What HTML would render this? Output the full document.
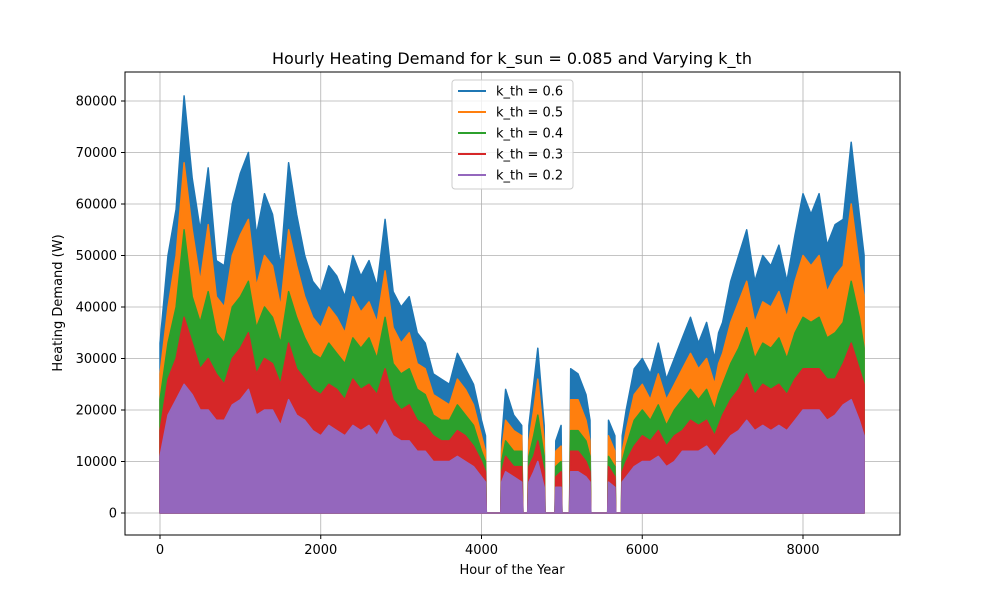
<!DOCTYPE html>
<html><head><meta charset="utf-8"><style>
body{margin:0;background:#fff;}
svg text{font-family:"DejaVu Sans","Liberation Sans",sans-serif;}
</style></head><body>
<svg id="chart" width="1000" height="600" xmlns="http://www.w3.org/2000/svg">
<rect x="0" y="0" width="1000" height="600" fill="#fff"/>
<text x="512" y="64" text-anchor="middle" font-size="16">Hourly Heating Demand for k_sun = 0.085 and Varying k_th</text>
<g id="grid"></g>
<g id="series"></g>
<rect x="125" y="72" width="775" height="463" fill="none" stroke="#000" stroke-width="1"/>
<g id="ticks"></g>
<text x="512" y="574" text-anchor="middle" font-size="13">Hour of the Year</text>
<text x="0" y="0" transform="translate(62,303) rotate(-90)" text-anchor="middle" font-size="13">Heating Demand (W)</text>
<g id="legend"></g>
</svg>
<script>
const hours=[0,100,200,300,400,500,600,700,800,900,1000,1100,1200,1300,1400,1500,1600,1700,1800,1900,2000,2100,2200,2300,2400,2500,2600,2700,2800,2900,3000,3100,3200,3300,3400,3500,3600,3700,3800,3900,4000,4050,4060,4240,4250,4300,4400,4500,4515,4575,4590,4650,4700,4780,4790,4915,4925,4990,5000,5095,5110,5200,5300,5350,5360,5570,5580,5660,5670,5740,5750,5800,5900,6000,6100,6200,6300,6400,6500,6600,6700,6800,6900,6950,7000,7100,7200,7300,7400,7500,7600,7700,7800,7900,8000,8100,8200,8300,8400,8500,8600,8700,8760];
const kth06=[33,50,59,81,65,55,67,49,48,60,66,70,54,62,58,48,68,58,50,45,43,48,46,42,50,46,49,44,57,43,40,42,35,33,27,26,25,31,28,25,18,15,0,0,14,24,19,17,0,0,17,25,32,17,0,0,14,17,0,0,28,27,23,18,0,0,18,15,0,0,15,20,28,30,27,33,26,30,34,38,33,37,30,35,37,45,50,55,45,50,48,52,45,54,62,58,62,52,56,57,72,58,50];
const kth05=[27,40,50,68,55,45,56,42,40,50,54,57,44,50,48,40,55,48,42,38,36,40,38,35,42,39,41,37,47,36,33,35,29,28,23,22,21,26,24,21,15,12,0,0,12,18,16,15,0,0,14,20,26,14,0,0,12,13,0,0,22,22,18,14,0,0,15,12,0,0,12,16,23,25,22,27,22,25,28,31,28,30,25,29,31,37,41,45,37,41,40,43,38,45,50,48,50,43,46,48,60,48,42];
const kth04=[22,33,40,55,42,37,43,35,33,40,42,45,36,40,38,33,43,38,34,31,30,33,31,29,34,32,34,30,38,29,27,28,24,23,19,18,18,21,19,17,12,10,0,0,10,14,12,12,0,0,11,15,19,11,0,0,9,10,0,0,16,16,14,11,0,0,11,9,0,0,10,13,18,20,18,21,17,20,22,24,22,24,20,23,25,29,32,36,30,33,32,34,30,35,38,37,38,34,35,37,45,38,32];
const kth03=[16,26,30,38,33,28,30,27,25,30,32,35,27,30,29,25,33,28,26,24,23,25,24,22,26,24,25,23,28,22,20,21,18,17,15,14,14,16,15,13,10,8,0,0,8,11,9,9,0,0,9,11,14,8,0,0,7,8,0,0,12,12,10,8,0,0,9,7,0,0,8,10,13,15,14,16,13,15,16,18,17,18,15,17,19,22,24,27,23,25,24,25,23,26,28,28,28,26,26,29,33,28,25];
const kth02=[11,19,22,25,23,20,20,18,18,21,22,24,19,20,20,17,22,19,18,16,15,17,16,15,17,16,17,15,18,15,14,14,12,12,10,10,10,11,10,9,7,6,0,0,6,8,7,6,0,0,6,8,10,5,0,0,5,5,0,0,8,8,7,6,0,0,6,5,0,0,6,7,9,10,10,11,9,10,12,12,12,13,11,12,13,15,16,18,16,17,16,17,16,18,20,20,20,18,19,21,22,18,15];
const xTicks=[0,2000,4000,6000,8000];
const yTicks=[0,10000,20000,30000,40000,50000,60000,70000,80000];
const labels=["k_th = 0.6","k_th = 0.5","k_th = 0.4","k_th = 0.3","k_th = 0.2"];
const colors=["#1f77b4","#ff7f0e","#2ca02c","#d62728","#9467bd"];
const seriesData=[kth06,kth05,kth04,kth03,kth02];
const NS="http://www.w3.org/2000/svg";
function xs(h){return 160+h*(643/8000);}
function ys(v){return 513-v*(412/80000);}
function mk(tag,attrs,parent){const e=document.createElementNS(NS,tag);for(const k in attrs)e.setAttribute(k,attrs[k]);parent.appendChild(e);return e;}
const grid=document.getElementById('grid'),ticks=document.getElementById('ticks');
xTicks.forEach(t=>{
  const g=mk('line',{x1:xs(t),x2:xs(t),y1:72,y2:535,stroke:'#b0b0b0','stroke-width':0.8},grid);
  
  
  const tk=mk('line',{x1:xs(t),x2:xs(t),y1:535,y2:539,stroke:'#000'},ticks);
  
  
  const tx=mk('text',{x:xs(t),y:554,'text-anchor':'middle','font-size':13},ticks);
  tx.textContent=t;
  
  
});
yTicks.forEach(t=>{
  const g=mk('line',{x1:125,x2:900,y1:ys(t),y2:ys(t),stroke:'#b0b0b0','stroke-width':0.8},grid);
  
  
  const tk=mk('line',{x1:121,x2:125,y1:ys(t),y2:ys(t),stroke:'#000'},ticks);
  
  
  const tx=mk('text',{x:117,y:ys(t)+4.5,'text-anchor':'end','font-size':13},ticks);
  tx.textContent=t;
  
  
});
const sg=document.getElementById('series');
seriesData.forEach((arr,i)=>{
  let d='M'+xs(hours[0])+','+ys(0);
  hours.forEach((h,j)=>{d+=' L'+xs(h).toFixed(1)+','+ys(arr[j]*1000).toFixed(1);});
  d+=' L'+xs(hours[hours.length-1])+','+ys(0)+' Z';
  const p=mk('path',{d:d,fill:colors[i],stroke:colors[i],'stroke-width':1.5,'stroke-linejoin':'round'},sg);
  
  
});
const lg=document.getElementById('legend');
const box=mk('rect',{x:452,y:80,width:121,height:109,rx:3,fill:'#fff','fill-opacity':0.8,stroke:'#ccc'},lg);


labels.forEach((l,i)=>{
  const y=91+i*21;
  const ln=mk('line',{x1:458,x2:486,y1:y,y2:y,stroke:colors[i],'stroke-width':2},lg);
  
  
  const t=mk('text',{x:496,y:y+4.5,'font-size':13},lg);
  t.textContent=l;
  
  
});
</script>
</body></html>
